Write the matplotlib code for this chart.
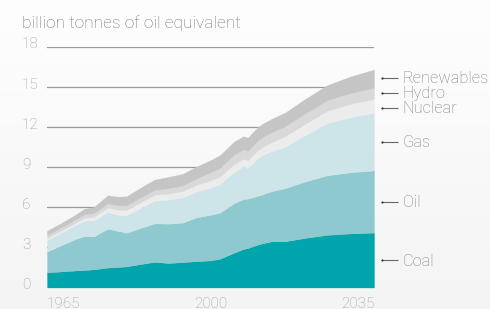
import numpy as np
import matplotlib
matplotlib.use('Agg')
import matplotlib.pyplot as plt
from matplotlib.transforms import blended_transform_factory, offset_copy

# Primary energy consumption by fuel, billion tonnes of oil equivalent
years = [1965, 1968, 1971, 1973, 1975, 1978, 1980, 1982, 1985, 1988, 1991, 1994,
         1997, 2000, 2002, 2005, 2007, 2008, 2010, 2011, 2013, 2016, 2020, 2025,
         2030, 2035]
coal = [1.13, 1.20, 1.27, 1.31, 1.36, 1.49, 1.53, 1.58, 1.75, 1.92, 1.83, 1.90,
        1.97, 2.03, 2.15, 2.60, 2.88, 2.95, 3.20, 3.30, 3.45, 3.46, 3.70, 3.94,
        4.05, 4.11]
oil = [1.56, 1.95, 2.35, 2.54, 2.46, 2.91, 2.72, 2.52, 2.70, 2.88, 2.95, 2.95,
       3.28, 3.41, 3.45, 3.70, 3.74, 3.70, 3.65, 3.65, 3.75, 3.98, 4.20, 4.46,
       4.57, 4.65]
gas = [0.87, 0.95, 1.03, 1.15, 1.20, 1.25, 1.20, 1.30, 1.50, 1.70, 1.80, 1.90,
       1.95, 2.04, 2.15, 2.35, 2.43, 2.30, 2.80, 2.95, 3.00, 3.11, 3.45, 3.90,
       4.13, 4.30]
nuclear = [0.14, 0.15, 0.17, 0.22, 0.26, 0.33, 0.37, 0.40, 0.42, 0.43, 0.45, 0.46,
           0.48, 0.53, 0.55, 0.58, 0.58, 0.58, 0.59, 0.60, 0.66, 0.78, 0.85, 0.93,
           1.00, 1.05]
hydro = [0.22, 0.23, 0.24, 0.26, 0.28, 0.32, 0.33, 0.34, 0.36, 0.37, 0.40, 0.42,
         0.47, 0.62, 0.65, 0.70, 0.70, 0.70, 0.72, 0.73, 0.74, 0.75, 0.77, 0.79,
         0.81, 0.83]
renewables = [0.33, 0.34, 0.37, 0.42, 0.46, 0.60, 0.65, 0.68, 0.74, 0.77, 0.85, 0.87,
              0.90, 0.90, 0.95, 0.98, 0.99, 0.99, 1.00, 1.00, 1.01, 1.02, 1.08, 1.13,
              1.24, 1.37]

fuel_names = ['Coal', 'Oil', 'Gas', 'Nuclear', 'Hydro', 'Renewables']
fuel_colors = ['#00a5ac', '#8fc9d0', '#cde5e9', '#ececec', '#d9d9d9', '#c5c5c5']
y_ticks = [0, 3, 6, 9, 12, 15, 18]
x_labels = [1965, 2000, 2035]

W, H = 490, 309
fig = plt.figure(figsize=(W / 100, H / 100), dpi=100)

# soft background gradient
bg = fig.add_axes([0, 0, 1, 1], zorder=-10)
grad = np.linspace(0, 1, 256).reshape(-1, 1)
bg.imshow(grad, aspect='auto', cmap=matplotlib.colors.LinearSegmentedColormap.from_list(
    'bg', ['#fefefe', '#f4f4f4']), extent=[0, 1, 0, 1])
bg.set_axis_off()

ax = fig.add_axes([47 / W, 21.5 / H, 327 / W, 240.5 / H])
ax.patch.set_alpha(0)
ax.set_xlim(1965, 2035)
ax.set_ylim(0, 18)
ax.set_axis_off()

font = dict(family=['Roboto', 'DejaVu Sans'], fontweight='light')

# gridlines behind the areas
for t in y_ticks[1:]:
    ax.axhline(t, color='#9a9a9a', lw=0.9, zorder=0)

layers = [coal, oil, gas, nuclear, hydro, renewables]
polys = ax.stackplot(years, *layers, colors=fuel_colors, linewidth=0, zorder=2)
for p, c in zip(polys, fuel_colors):
    p.set_edgecolor(c)
    p.set_linewidth(0.2)

# y tick labels
ytr = offset_copy(blended_transform_factory(fig.transFigure, ax.transData),
                  fig=fig, y=-1.5, units='dots')
for t in y_ticks:
    ax.text(22 / W, t, str(t), transform=ytr, ha='left', va='baseline',
            fontsize=11, color='#a0a0a0', **font)

# x labels
xtr = offset_copy(ax.transData, fig=fig, y=-20, units='dots')
aligns = ['left', 'center', 'right']
for yr, ha in zip(x_labels, aligns):
    ax.text(yr, 0, str(yr), transform=xtr, ha=ha, va='baseline',
            fontsize=11, color='#a0a0a0', **font)

# title
fig.text(22 / W, 1 - 27.7 / H, 'billion tonnes of oil equivalent', ha='left',
         va='baseline', fontsize=12.5, color='#747474', **font)

# right-hand labels at band midpoints, spread so they don't collide
tops = np.cumsum([l[-1] for l in layers])
bottoms = np.concatenate([[0], tops[:-1]])
pos = list((tops + bottoms) / 2)
min_gap = 1.12
for _ in range(50):
    for i in range(1, len(pos)):
        gap = pos[i] - pos[i - 1]
        if gap < min_gap:
            d = (min_gap - gap) / 2
            pos[i] += d
            pos[i - 1] -= d

ltr = blended_transform_factory(fig.transFigure, ax.transData)
for name, yv in zip(fuel_names, pos):
    ax.plot([382 / W, 398 / W], [yv, yv], transform=ltr, color='#666666',
            lw=0.8, clip_on=False, solid_capstyle='butt')
    ax.plot([382 / W], [yv], transform=ltr, marker='o', ms=1.6, mew=0,
            color='#333333', clip_on=False)
    ttr = offset_copy(ltr, fig=fig, y=-5.5, units='dots')
    ax.text(402.5 / W, yv, name, transform=ttr, ha='left', va='baseline',
            fontsize=11.8, color='#808080', **font)

fig.savefig('out.png', dpi=100)
